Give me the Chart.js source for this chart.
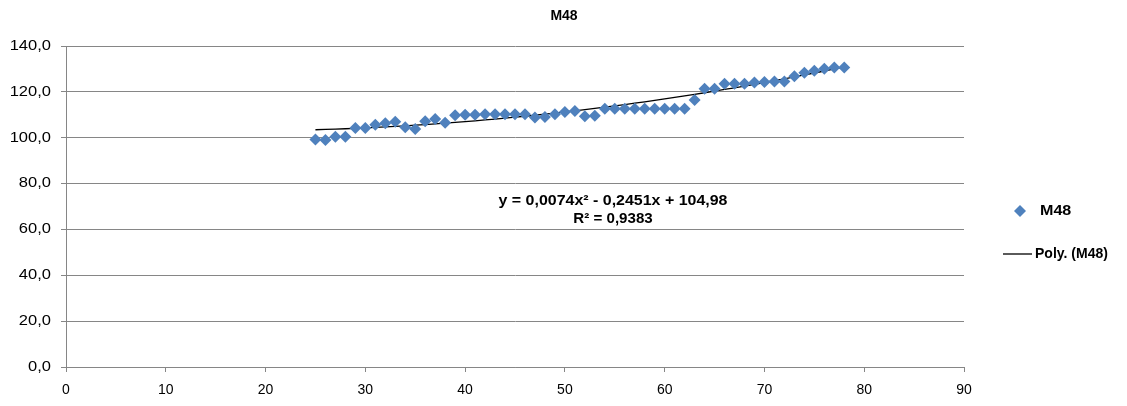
<!DOCTYPE html>
<html>
<head>
<meta charset="utf-8">
<title>M48</title>
<script src="https://cdn.jsdelivr.net/npm/chart.js@4.4.1/dist/chart.umd.min.js"></script>
<style>
    html, body { margin: 0; padding: 0; background: #ffffff; }
    #wrap { width: 1127px; height: 406px; position: relative; }
</style>
</head>
<body>
<div id="wrap"><canvas id="m48Chart"></canvas></div>
<script>
// Data
var xValues = [25, 26, 27, 28, 29, 30, 31, 32, 33, 34, 35, 36, 37, 38, 39, 40, 41, 42,
    43, 44, 45, 46, 47, 48, 49, 50, 51, 52, 53, 54, 55, 56, 57, 58, 59, 60, 61, 62,
    63, 64, 65, 66, 67, 68, 69, 70, 71, 72, 73, 74, 75, 76, 77, 78];
var m48Values = [99.2, 99.0, 100.4, 100.4, 104.2, 104.2, 105.6, 106.3, 107.0, 104.6, 103.8, 107.2,
    108.2, 106.5, 109.8, 110.0, 110.0, 110.2, 110.2, 110.2, 110.2, 110.2, 108.8, 109.0, 110.2,
    111.2, 111.6, 109.4, 109.6, 112.6, 112.6, 112.6, 112.6, 112.6, 112.6, 112.6, 112.6, 112.6,
    116.4, 121.4, 121.4, 123.5, 123.5, 123.5, 124.1, 124.3, 124.5, 124.5, 126.8, 128.3, 129.2,
    130.1, 130.6, 130.6];
// trendline coefficients as printed on the chart: a*x^2 + b*x + c
var polyCoef = [0.0074, -0.2451, 104.98];
var equationLines = ['y = 0,0074x\u00B2 - 0,2451x + 104,98', 'R\u00B2 = 0,9383'];
var xTicks = [0, 10, 20, 30, 40, 50, 60, 70, 80, 90];
var yTicks = [0, 20, 40, 60, 80, 100, 120, 140];

document.addEventListener('DOMContentLoaded', function() {
    var FONT = '"Liberation Sans", Arial, sans-serif';
    var BLUE = '#4F81BD';
    var GRID = '#868686';

    var points = xValues.map(function(x, i) { return { x: x, y: m48Values[i] }; });
    var trend = xValues.map(function(x) {
        return { x: x, y: polyCoef[0] * x * x + polyCoef[1] * x + polyCoef[2] };
    });

    // draws text a bit wider than the font, like the Excel export
    function wideText(ctx, text, x, y, stretch, align) {
        ctx.save();
        ctx.translate(x, y);
        ctx.scale(stretch, 1);
        ctx.textAlign = align;
        ctx.fillText(text, 0, 0);
        ctx.restore();
    }

    // y labels, title, equation and legend drawn by hand
    var extras = {
        id: 'extras',
        afterDraw: function(chart) {
            var ctx = chart.ctx;
            var ys = chart.scales.y;
            ctx.save();
            ctx.fillStyle = '#000000';
            ctx.textBaseline = 'middle';

            ctx.font = '14px ' + FONT;
            yTicks.forEach(function(v) {
                wideText(ctx, v.toFixed(1).replace('.', ','), 51, ys.getPixelForValue(v), 1.18, 'right');
            });

            ctx.font = 'bold 14px ' + FONT;
            ctx.textAlign = 'center';
            ctx.fillText('M48', 564, 16);

            wideText(ctx, equationLines[0], 613, 201, 1.14, 'center');
            wideText(ctx, equationLines[1], 613, 219, 1.08, 'center');

            // legend
            ctx.fillStyle = BLUE;
            ctx.beginPath();
            ctx.moveTo(1020, 205);
            ctx.lineTo(1026, 211);
            ctx.lineTo(1020, 217);
            ctx.lineTo(1014, 211);
            ctx.closePath();
            ctx.fill();
            ctx.fillStyle = '#000000';
            wideText(ctx, 'M48', 1040, 211, 1.15, 'left');

            ctx.strokeStyle = '#000000';
            ctx.lineWidth = 1.3;
            ctx.beginPath();
            ctx.moveTo(1003, 254);
            ctx.lineTo(1032, 254);
            ctx.stroke();
            wideText(ctx, 'Poly. (M48)', 1035, 254, 1.0, 'left');
            ctx.restore();
        }
    };

    var ctxM48 = document.getElementById('m48Chart').getContext('2d');
    var m48Chart = new Chart(ctxM48, {
        type: 'scatter',
        data: {
            datasets: [{
                label: 'Poly. (M48)',
                data: trend,
                showLine: true,
                borderColor: '#000000',
                borderWidth: 1.3,
                pointRadius: 0,
                fill: false,
                order: 1
            }, {
                label: 'M48',
                data: points,
                pointStyle: 'rectRot',
                pointRadius: 6,
                pointHoverRadius: 6,
                backgroundColor: BLUE,
                borderColor: BLUE,
                borderWidth: 0,
                order: 0
            }]
        },
        options: {
            responsive: true,
            maintainAspectRatio: false,
            animation: false,
            layout: { padding: { top: 46, right: 163, left: 0, bottom: 0 } },
            plugins: {
                legend: { display: false },
                title: { display: false },
                tooltip: { enabled: false }
            },
            scales: {
                x: {
                    type: 'linear',
                    min: 0,
                    max: 90,
                    afterBuildTicks: function(s) { s.ticks = xTicks.map(function(v) { return { value: v }; }); },
                    afterFit: function(s) { s.height = 39; },
                    grid: { drawOnChartArea: false, drawTicks: true, tickLength: 5, color: GRID },
                    border: { color: GRID },
                    ticks: {
                        color: '#000000',
                        padding: 10,
                        maxRotation: 0,
                        font: { family: FONT, size: 14 }
                    }
                },
                y: {
                    min: 0,
                    max: 140,
                    afterBuildTicks: function(s) { s.ticks = yTicks.map(function(v) { return { value: v }; }); },
                    afterFit: function(s) { s.width = 66; },
                    grid: { color: GRID, tickLength: 5 },
                    border: { color: GRID },
                    ticks: { display: false }
                }
            }
        },
        plugins: [extras]
    });
});
</script>
</body>
</html>
